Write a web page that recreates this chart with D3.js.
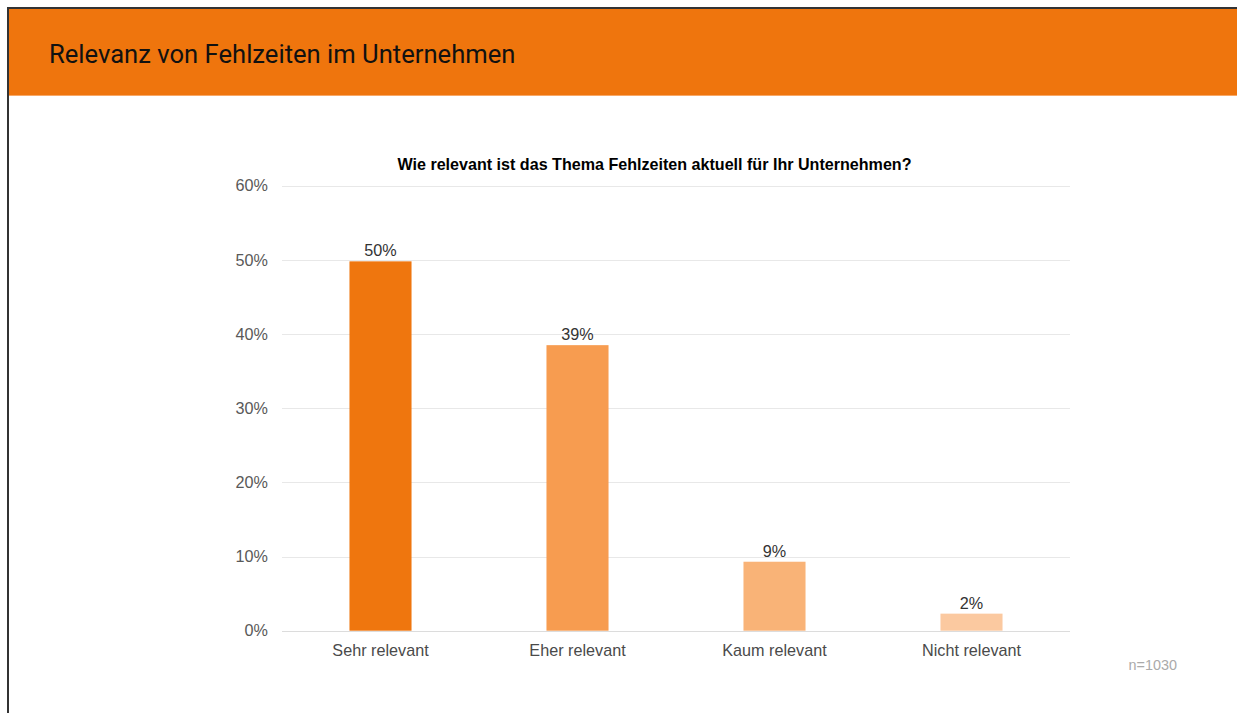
<!DOCTYPE html>
<html><head><meta charset="utf-8">
<script src="https://cdn.jsdelivr.net/npm/d3@7"></script>
<style>html,body{margin:0;padding:0;background:#fff;overflow:hidden}</style>
</head><body>
<svg id="chart" width="1237" height="713"></svg>
<script>
const categories = ["Sehr relevant", "Eher relevant", "Kaum relevant", "Nicht relevant"];
const values = [49.8, 38.5, 9.3, 2.3];
const valueLabels = ["50%", "39%", "9%", "2%"];
const barColors = ["#EF760E", "#F79C50", "#F9B377", "#FBC9A0"];
const yTicks = [0, 10, 20, 30, 40, 50, 60];
const pageTitle = "Relevanz von Fehlzeiten im Unternehmen";
const chartTitle = "Wie relevant ist das Thema Fehlzeiten aktuell für Ihr Unternehmen?";
const note = "n=1030";

const svg = d3.select("#chart");
// slide frame
svg.append("rect").attr("x", 9).attr("y", 9).attr("width", 1240).attr("height", 86).attr("fill", "#EF750D");
svg.append("line").attr("x1", 9).attr("x2", 1237).attr("y1", 95.5).attr("y2", 95.5).attr("stroke", "#F8A866").attr("stroke-width", 1);
svg.append("line").attr("x1", 7).attr("x2", 1237).attr("y1", 8).attr("y2", 8).attr("stroke", "#333").attr("stroke-width", 2);
svg.append("line").attr("x1", 8).attr("x2", 8).attr("y1", 7).attr("y2", 713).attr("stroke", "#333").attr("stroke-width", 2);
svg.append("text").attr("x", 49).attr("y", 63).attr("font-family", "Roboto").attr("font-size", 25.6)
  .attr("fill", "#111").text(pageTitle);

const pLeft = 282, pRight = 1070, pTop = 185.7, pBottom = 630.7;
const x = d3.scaleBand().domain(categories).range([pLeft, pRight]).paddingInner(0.685).paddingOuter(0.3425);
const y = d3.scaleLinear().domain([0, 60]).range([pBottom, pTop]);

// gridlines
svg.append("g").selectAll("line").data(yTicks).join("line")
  .attr("x1", pLeft).attr("x2", pRight)
  .attr("y1", d => Math.round(y(d)) + 0.5).attr("y2", d => Math.round(y(d)) + 0.5)
  .attr("stroke", d => d === 0 ? "#dcdcdc" : "#e8e8e8").attr("stroke-width", 1);

// y axis labels
const yAxis = d3.axisLeft(y).tickValues(yTicks).tickFormat(d => d + "%").tickSize(0).tickPadding(14);
const gy = svg.append("g").attr("transform", `translate(${pLeft},0)`).call(yAxis);
gy.select(".domain").remove();
gy.selectAll("text").attr("font-family", "Liberation Sans, Arial").attr("font-size", 16.2).attr("fill", "#595959");

// bars
svg.append("g").selectAll("rect").data(values).join("rect")
  .attr("x", (d, i) => x(categories[i])).attr("width", x.bandwidth())
  .attr("y", d => y(d)).attr("height", d => y(0) - y(d))
  .attr("fill", (d, i) => barColors[i]);

// value labels
svg.append("g").selectAll("text").data(values).join("text")
  .attr("x", (d, i) => x(categories[i]) + x.bandwidth() / 2).attr("y", d => y(d) - 5)
  .attr("text-anchor", "middle").attr("font-family", "Liberation Sans, Arial").attr("font-size", 16.2)
  .attr("fill", "#333").text((d, i) => valueLabels[i]);

// x axis labels
const xAxis = d3.axisBottom(x).tickSize(0).tickPadding(14);
const gx = svg.append("g").attr("transform", `translate(0,${pBottom})`).call(xAxis);
gx.select(".domain").remove();
gx.selectAll("text").attr("font-family", "Liberation Sans, Arial").attr("font-size", 16.2).attr("fill", "#4a4a4a");

// chart title
svg.append("text").attr("x", 654.5).attr("y", 170).attr("text-anchor", "middle")
  .attr("font-family", "Liberation Sans, Arial").attr("font-weight", "bold").attr("font-size", 16.1)
  .attr("fill", "#000").text(chartTitle);

svg.append("text").attr("x", 1177).attr("y", 670).attr("text-anchor", "end")
  .attr("font-family", "Liberation Sans, Arial").attr("font-size", 14.4).attr("fill", "#aaa").text(note);
</script>
</body></html>
